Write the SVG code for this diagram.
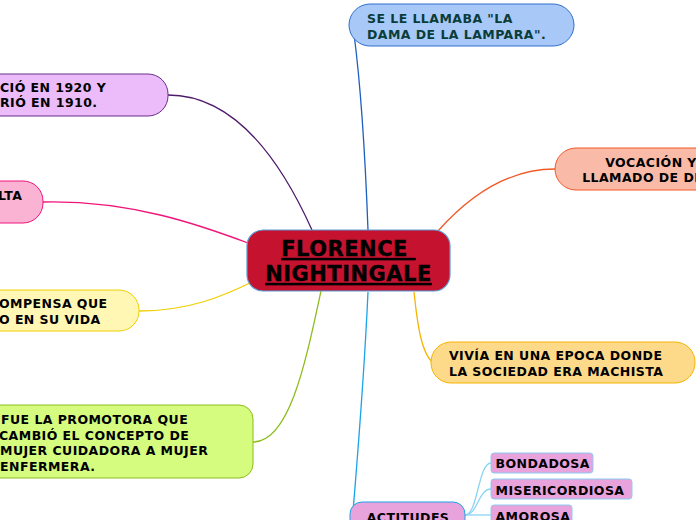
<svg xmlns="http://www.w3.org/2000/svg" width="696" height="520" viewBox="0 0 696 520">
<style>
.t{font-family:"DejaVu Sans",Verdana,sans-serif;font-weight:bold;font-size:12.5px;letter-spacing:0.45px;fill:#000}
.h{font-size:21px;letter-spacing:0.5px;text-decoration:underline;stroke:#000;stroke-width:0.35}
.c{fill:none;stroke-width:1.3}
.sub{fill:#e9a3dc;stroke:#8ccbf2;stroke-width:1}
</style>
<rect width="696" height="520" fill="#fff"/>
<g id="connectors">
<path class="c" stroke="#4e1a6a" d="M168,95 C240,95 285,170 312,230"/>
<path class="c" stroke="#f0147a" d="M43,202 C130,200 200,225 248,243"/>
<path class="c" stroke="#f0d000" d="M139,311 C190,311 225,295 250,283"/>
<path class="c" stroke="#8dbd1e" d="M253,442 C290,442 306,360 321,291"/>
<path class="c" stroke="#1d5fbf" d="M368,230 C365,150 360,80 354,34"/>
<path class="c" stroke="#f05a28" d="M438,231 C470,195 510,169 555,169"/>
<path class="c" stroke="#f5b400" d="M414,292 C418,330 422,352 432,362"/>
<path class="c" stroke="#1aa3e8" d="M368,292 C364,380 358,450 353,512"/>
<path class="c" stroke="#8cd4f5" d="M465,515 C478,515 478,463 491,463"/>
<path class="c" stroke="#8cd4f5" d="M465,515 C478,515 478,489 491,489"/>
<path class="c" stroke="#8cd4f5" d="M465,515 L491,515"/>
</g>
<g id="central">
<rect x="247" y="230" width="203" height="61" rx="16" fill="#c4122f" stroke="#5b9bd5" stroke-width="1.2"/>
<text class="t h" x="348.5" y="256" text-anchor="middle" xml:space="preserve">FLORENCE </text>
<text class="t h" x="348.5" y="281" text-anchor="middle">NIGHTINGALE</text>
</g>
<g id="n-lampara">
<rect x="349" y="4" width="225" height="42" rx="21" fill="#a8c8f8" stroke="#2f6fcf" stroke-width="1"/>
<text class="t" x="367" y="23" style="fill:#0a3d3a">SE LE LLAMABA "LA</text>
<text class="t" x="367" y="39" style="fill:#0a3d3a">DAMA DE LA LAMPARA".</text>
</g>
<g id="n-nacio">
<rect x="-60" y="74" width="228" height="42" rx="20" fill="#ebbcf9" stroke="#6a2c8a" stroke-width="1"/>
<text class="t" x="0" y="92">CIÓ EN 1920 Y</text>
<text class="t" x="0" y="107">RIÓ EN 1910.</text>
</g>
<g id="n-alta">
<rect x="-60" y="181" width="103" height="42" rx="20" fill="#fbb3d3" stroke="#f0147a" stroke-width="1"/>
<text class="t" x="-2" y="200">LTA</text>
</g>
<g id="n-compensa">
<rect x="-60" y="290" width="199" height="41" rx="20" fill="#fff7b3" stroke="#f0d000" stroke-width="1"/>
<text class="t" x="-1" y="308">OMPENSA QUE</text>
<text class="t" x="-1" y="324">O EN SU VIDA</text>
</g>
<g id="n-promotora">
<rect x="-60" y="405" width="313" height="73" rx="14" fill="#d5fb7f" stroke="#8dbd1e" stroke-width="1"/>
<text class="t" x="1" y="424">FUE LA PROMOTORA QUE</text>
<text class="t" x="-1" y="439.5">CAMBIÓ EL CONCEPTO DE</text>
<text class="t" x="0" y="455">MUJER CUIDADORA A MUJER</text>
<text class="t" x="0" y="470.5">ENFERMERA.</text>
</g>
<g id="n-vocacion">
<rect x="555" y="148" width="200" height="42" rx="21" fill="#f9bba7" stroke="#f05a28" stroke-width="1"/>
<text class="t" x="651" y="167" text-anchor="middle">VOCACIÓN Y</text>
<text class="t" x="651" y="182" text-anchor="middle">LLAMADO DE DIOS</text>
</g>
<g id="n-vivia">
<rect x="431" y="342" width="264" height="41" rx="20" fill="#fdd98a" stroke="#f5b400" stroke-width="1"/>
<text class="t" x="449" y="360">VIVÍA EN UNA EPOCA DONDE</text>
<text class="t" x="449" y="375.5">LA SOCIEDAD ERA MACHISTA</text>
</g>
<g id="n-actitudes">
<rect x="350" y="502" width="115" height="30" rx="12" fill="#e9a3dc" stroke="#1aa3e8" stroke-width="1"/>
<text class="t" x="408" y="521.5" text-anchor="middle">ACTITUDES</text>
</g>
<g id="n-bondadosa">
<rect class="sub" x="491" y="453" width="102" height="20" rx="3"/>
<text class="t" x="495.5" y="468">BONDADOSA</text>
</g>
<g id="n-misericordiosa">
<rect class="sub" x="491" y="479" width="141" height="20" rx="3"/>
<text class="t" x="495.5" y="495">MISERICORDIOSA</text>
</g>
<g id="n-amorosa">
<rect class="sub" x="491" y="505" width="81" height="20" rx="3"/>
<text class="t" x="495.5" y="521">AMOROSA</text>
</g>
</svg>
